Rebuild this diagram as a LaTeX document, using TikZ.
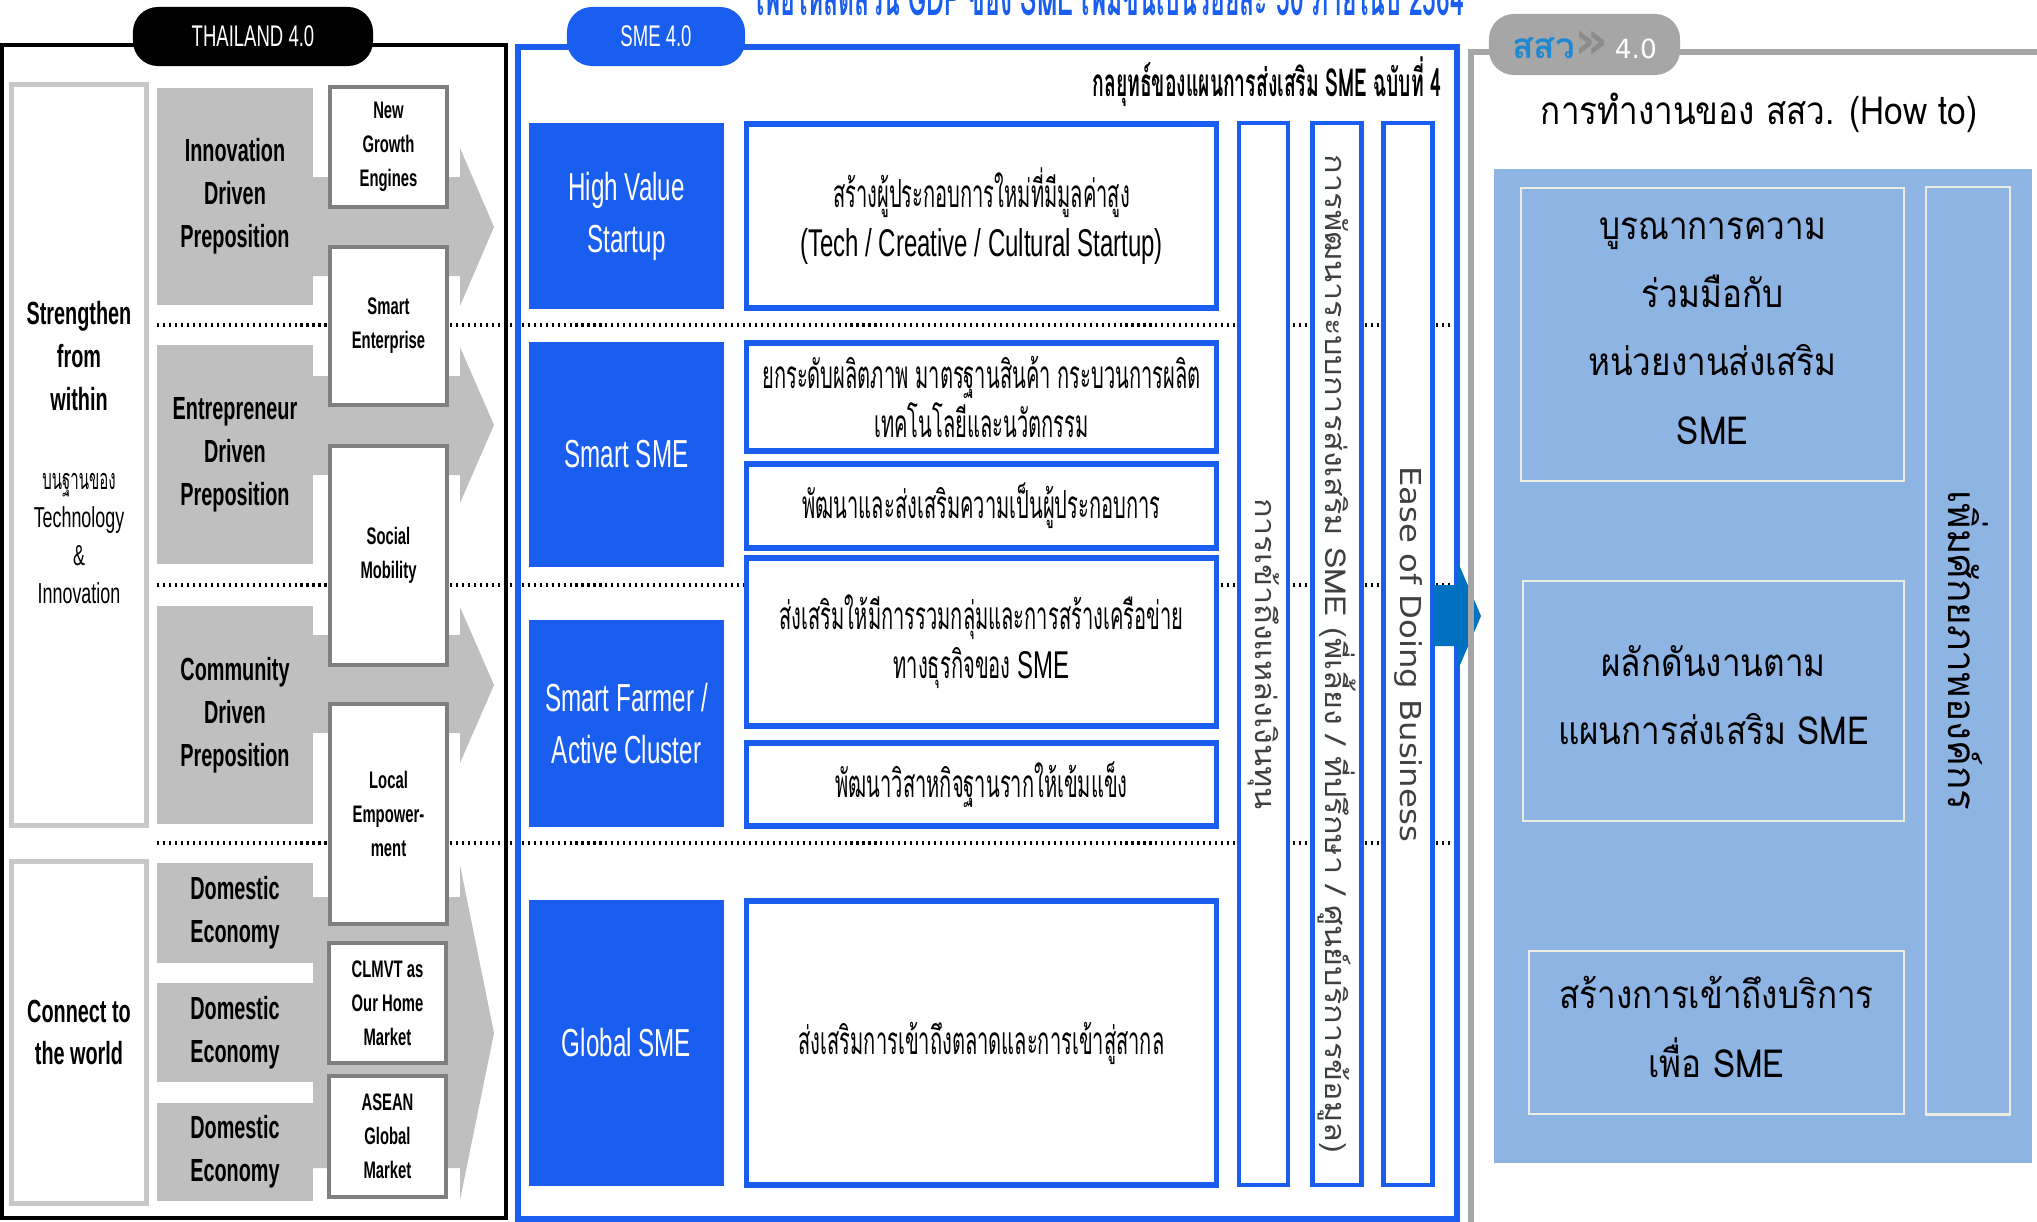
\documentclass[tikz,border=0pt]{standalone}
\usepackage{fontspec}
\setmainfont{Liberation Sans}
\newfontfamily\condfont[FakeStretch=0.62]{Liberation Sans}
\newfontfamily\thaicond[Script=Thai,FakeStretch=0.52]{Loma}
\newfontfamily\thaitight[Script=Thai,FakeStretch=0.5]{Loma}
\newfontfamily\thaifont[Script=Thai,FakeStretch=0.86]{Loma}
\newfontfamily\thaiplain[Script=Thai]{Loma}
\newfontfamily\thaiwide[Script=Thai,FakeStretch=1.12]{Loma}
\newfontfamily\dejavu{DejaVu Sans}
\newfontfamily\dejavuwide[FakeStretch=1.12]{DejaVu Sans}
\usetikzlibrary{arrows}

\definecolor{smeblue}{HTML}{1A5EF0}
\definecolor{boxgray}{HTML}{BFBFBF}
\definecolor{edgegray}{HTML}{7F7F7F}
\definecolor{sidegray}{HTML}{C8C8C8}
\definecolor{osmepgray}{HTML}{A6A6A6}
\definecolor{osmepblue}{HTML}{1E88D0}
\definecolor{chevgray}{HTML}{8C8C8C}
\definecolor{arrowblue}{HTML}{0070C0}
\definecolor{howblue}{HTML}{8EB4E3}
\definecolor{cream}{HTML}{EEECE1}

\begin{document}
\begin{tikzpicture}[x=0.01cm,y=-0.01cm,
  every node/.style={align=center,inner sep=0pt},
  tab/.style={rounded corners=0.25cm,minimum height=0.59cm,text=white,
    font=\condfont\fontsize{8.5}{10}\selectfont},
  side box/.style={draw=sidegray,line width=1.4pt,fill=white,minimum width=1.34cm},
  prop box/.style={fill=boxgray,minimum width=1.56cm,
    font=\condfont\bfseries\fontsize{9.1}{12.2}\selectfont},
  goal box/.style={draw=edgegray,line width=1pt,fill=white,minimum width=1.17cm,
    font=\condfont\bfseries\fontsize{6.8}{9.7}\selectfont},
  sme box/.style={fill=smeblue,minimum width=1.95cm,text=white,
    font=\condfont\fontsize{11.1}{14.8}\selectfont},
  plan box/.style={draw=smeblue,line width=1.5pt,fill=white,minimum width=4.7cm,
    font=\thaicond\fontsize{11}{14}\selectfont},
  strip/.style={draw=smeblue,line width=1.2pt,fill=white,rotate=-90,
    minimum width=10.62cm,minimum height=0.49cm,text=black!75,
    font=\thaiwide\fontsize{8.2}{9}\selectfont},
  how box/.style={draw=cream,line width=0.7pt,
    font=\thaifont\fontsize{11}{19.4}\selectfont}]

  \tikzstyle{divider} = [line width=1.2pt,dash pattern=on 0.6pt off 1.1pt]

  \useasboundingbox (0,0) rectangle (2037,1221);
  \clip (0,0) rectangle (2037,1221);

  % THAILAND 4.0
  \draw[line width=1.2pt] (2,45) rectangle (506,1218);
  \node[tab,fill=black,minimum width=2.4cm] (th) at (253,36.5) {THAILAND 4.0};

  \fill[boxgray] (313,177) -- (460,177) -- (460,148) -- (494,227) -- (460,306) -- (460,276) -- (313,276) -- cycle;
  \fill[boxgray] (313,376) -- (460,376) -- (460,347) -- (494,425) -- (460,503) -- (460,475) -- (313,475) -- cycle;
  \fill[boxgray] (313,635) -- (460,635) -- (460,607) -- (494,685) -- (460,763) -- (460,733) -- (313,733) -- cycle;
  \fill[boxgray] (313,897) -- (460,897) -- (460,865) -- (494,1033) -- (460,1200) -- (460,1168) -- (313,1168) -- cycle;

  \node[prop box,minimum height=2.17cm] (innov) at (235,196.5) {Innovation\\Driven\\Preposition};
  \node[prop box,minimum height=2.19cm] (entre) at (235,454.5) {Entrepreneur\\Driven\\Preposition};
  \node[prop box,minimum height=2.18cm] (commun) at (235,715) {Community\\Driven\\Preposition};
  \node[prop box,minimum height=1.00cm] (dom1) at (235,913) {Domestic\\Economy};
  \node[prop box,minimum height=0.99cm] (dom2) at (235,1032.5) {Domestic\\Economy};
  \node[prop box,minimum height=0.98cm] (dom3) at (235,1152) {Domestic\\Economy};

  \draw[divider] (157,325) -- (1457,325);
  \draw[divider] (157,585) -- (1457,585);
  \draw[divider] (157,843) -- (1457,843);

  \node[goal box,minimum height=1.20cm] (nge) at (388.5,147) {New\\Growth\\Engines};
  \node[goal box,minimum height=1.58cm] (sment) at (388.5,326) {Smart\\Enterprise};
  \node[goal box,minimum height=2.19cm] (social) at (388.5,555.5) {Social\\Mobility};
  \node[goal box,minimum height=2.20cm] (local) at (388.5,814) {Local\\Empower-\\ment};
  \node[goal box,minimum height=1.20cm] (clmvt) at (387.5,1003) {CLMVT as\\Our Home\\Market};
  \node[goal box,minimum height=1.21cm] (asean) at (387.5,1136.5) {ASEAN\\Global\\Market};

  \node[side box,minimum height=7.40cm] (strength) at (79,455) {};
  \node[font=\condfont\bfseries\fontsize{9.1}{12.2}\selectfont] (strtxt) at (79,356) {Strengthen\\from\\within};
  \node[font=\condfont\fontsize{8.2}{10.8}\selectfont] (base) at (79,539) {{\thaicond บนฐานของ}\\Technology\\\&\\Innovation};
  \node[side box,minimum height=3.41cm,font=\condfont\bfseries\fontsize{9.1}{12.2}\selectfont] (connect) at (79,1032.5) {Connect to\\the world};

  % SME 4.0
  \draw[smeblue,line width=1.5pt] (518,47) rectangle (1457,1219);
  \node[tab,fill=smeblue,minimum width=1.78cm] (sme) at (656,36.5) {SME 4.0};
  \node[anchor=base,text=smeblue,font=\thaitight\bfseries\fontsize{14}{16}\selectfont] (target) at (1110,15)
    {เพื่อให้สัดส่วน GDP ของ SME เพิ่มขึ้นเป็นร้อยละ 50 ภายในปี 2564};
  \node[anchor=east,font=\thaitight\bfseries\fontsize{11}{12}\selectfont] (plan) at (1442,82)
    {กลยุทธ์ของแผนการส่งเสริม SME ฉบับที่ 4};

  \node[sme box,minimum height=1.86cm] (hvs) at (626.5,216) {High Value\\Startup};
  \node[sme box,minimum height=2.25cm] (ssme) at (626.5,454.5) {Smart SME};
  \node[sme box,minimum height=2.07cm] (farmer) at (626.5,723.5) {Smart Farmer /\\Active Cluster};
  \node[sme box,minimum height=2.86cm] (gsme) at (626.5,1043) {Global SME};

  \node[plan box,minimum height=1.84cm] (p1) at (981.5,216) {สร้างผู้ประกอบการใหม่ที่มีมูลค่าสูง\\{\condfont (Tech / Creative / Cultural Startup)}};
  \node[plan box,minimum height=1.08cm] (p2) at (981.5,397) {ยกระดับผลิตภาพ มาตรฐานสินค้า กระบวนการผลิต\\เทคโนโลยีและนวัตกรรม};
  \node[plan box,minimum height=0.84cm] (p3) at (981.5,506) {พัฒนาและส่งเสริมความเป็นผู้ประกอบการ};
  \node[plan box,minimum height=1.68cm] (p4) at (981.5,642) {ส่งเสริมให้มีการรวมกลุ่มและการสร้างเครือข่าย\\ทางธุรกิจของ {\condfont SME}};
  \node[plan box,minimum height=0.83cm] (p5) at (981.5,784.5) {พัฒนาวิสาหกิจฐานรากให้เข้มแข็ง};
  \node[plan box,minimum height=2.84cm] (p6) at (981.5,1043) {ส่งเสริมการเข้าถึงตลาดและการเข้าสู่สากล};

  \node[strip] (fund) at (1263.5,654) {การเข้าถึงแหล่งเงินทุน};
  \node[strip] (mentor) at (1337,654) {การพัฒนาระบบการส่งเสริม SME (พี่เลี้ยง / ที่ปรึกษา / ศูนย์บริการข้อมูล)};
  \node[strip,font=\dejavuwide\fontsize{8.2}{9}\selectfont] (ease) at (1408,654) {Ease of Doing Business};

  \fill[arrowblue] (1433,585) -- (1457,585) -- (1457,560) -- (1481,616) -- (1457,672) -- (1457,646) -- (1433,646) -- cycle;

  % OSMEP 4.0
  \draw[osmepgray,line width=1.5pt] (2040,52) -- (1471,52) -- (1471,1230);
  \node[tab,fill=osmepgray,minimum width=1.91cm,minimum height=0.61cm,font=\fontsize{10}{12}\selectfont] (osmep) at (1584.5,44.5)
    {{\thaiplain\bfseries\color{osmepblue}สสว}{\dejavu\bfseries\fontsize{15}{12}\selectfont\color{chevgray}»}\,{\dejavu\fontsize{7.5}{9}\selectfont 4.0}};
  \node[font=\thaifont\fontsize{11}{13}\selectfont] (howto) at (1759,113) {การทำงานของ สสว. (How to)};

  \fill[howblue] (1494,169) rectangle (2032,1163);
  \node[how box,minimum width=3.83cm,minimum height=2.93cm] (coop) at (1712.5,334.5) {};
  \node[font=\thaifont\fontsize{11}{19.4}\selectfont] (cooptxt) at (1712.5,331) {บูรณาการความ\\ร่วมมือกับ\\หน่วยงานส่งเสริม\\SME};
  \node[how box,minimum width=3.81cm,minimum height=2.40cm] (push) at (1713.5,701) {};
  \node[font=\thaifont\fontsize{11}{19.4}\selectfont] (pushtxt) at (1713.5,695) {ผลักดันงานตาม\\แผนการส่งเสริม SME};
  \node[how box,minimum width=3.75cm,minimum height=1.63cm] (access) at (1716.5,1032.5) {};
  \node[font=\thaifont\fontsize{11}{19.4}\selectfont] (accesstxt) at (1716.5,1027) {สร้างการเข้าถึงบริการ\\เพื่อ SME};
  \node[how box,rotate=-90,minimum width=9.27cm,minimum height=0.84cm,font=\thaiplain\fontsize{11}{13}\selectfont] (org) at (1968,650.5) {เพิ่มศักยภาพองค์กร};
\end{tikzpicture}
\end{document}
